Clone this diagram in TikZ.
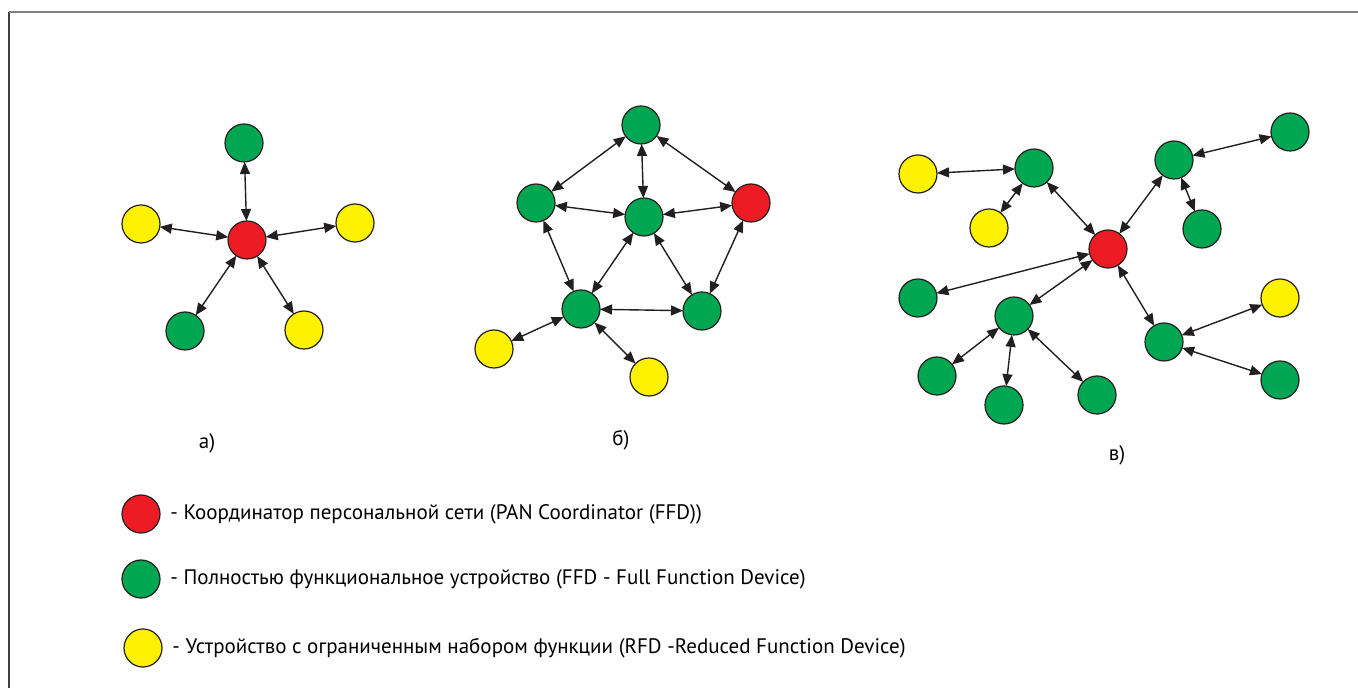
\documentclass[tikz,border=0pt]{standalone}
\usepackage{fontspec}
\setmainfont{PT Sans}
\usetikzlibrary{arrows.meta}
\definecolor{panred}{HTML}{ED1C24}
\definecolor{ffdgreen}{HTML}{00A651}
\definecolor{rfdyellow}{HTML}{FFF200}
\definecolor{rim}{HTML}{231F20}
\tikzset{
  dev/.style={circle,draw=rim,line width=0.6pt,minimum size=19pt,inner sep=0pt,outer sep=0pt},
  pan/.style={dev,fill=panred},
  ffd/.style={dev,fill=ffdgreen},
  rfd/.style={dev,fill=rfdyellow},
  link/.style={{Triangle[length=6pt,width=5pt]}-{Triangle[length=6pt,width=5pt]},line width=0.7pt,draw=rim},
  txt/.style={font=\fontsize{10.5}{12}\selectfont,inner sep=0pt}
}

\begin{document}
\begin{tikzpicture}[x=0.5pt,y=-0.5pt]
  \useasboundingbox (0,0) rectangle (1358,688);
  % frame
  \draw[line width=1pt,black!75] (9,688) -- (9,12);
  \draw[line width=1pt,black!50] (9,12) -- (1358,12);

  % a) star
  \node[pan] (ac) at (247,240) {};
  \node[ffd] (at) at (244,143) {};
  \node[rfd] (al) at (141,224) {};
  \node[rfd] (ar) at (355,223) {};
  \node[ffd] (abl) at (185,331) {};
  \node[rfd] (abr) at (304,330) {};
  \foreach \n in {at,al,ar,abl,abr}
    \draw[link] (ac) -- (\n);
  \node[txt] (la) at (207,443) {а)};

  % b) mesh
  \node[ffd] (bt) at (641,125) {};
  \node[ffd] (bl) at (536,203) {};
  \node[ffd] (bc) at (644,217) {};
  \node[pan] (br) at (751,203) {};
  \node[ffd] (bbl) at (581,309) {};
  \node[ffd] (bbr) at (702,311) {};
  \node[rfd] (by1) at (494,349) {};
  \node[rfd] (by2) at (649,377) {};
  \foreach \a/\b in {bt/bl,bt/bc,bt/br,bl/bc,bc/br,bl/bbl,bc/bbl,bc/bbr,br/bbr,bbl/bbr,bbl/by1,bbl/by2}
    \draw[link] (\a) -- (\b);
  \node[txt] (lb) at (621,440) {б)};

  % c) cluster tree
  \node[pan] (cc) at (1108,249) {};
  \node[rfd] (cy1) at (918,174) {};
  \node[ffd] (ca) at (1034,168) {};
  \node[rfd] (cy2) at (989,228) {};
  \node[ffd] (cb) at (1174,160) {};
  \node[ffd] (cbc) at (1290,132) {};
  \node[ffd] (cbd) at (1202,229) {};
  \node[ffd] (ce) at (918,298) {};
  \node[ffd] (cf) at (1014,316) {};
  \node[ffd] (cfg) at (937,376) {};
  \node[ffd] (cfh) at (1004,405) {};
  \node[ffd] (cfi) at (1097,395) {};
  \node[ffd] (cj) at (1164,342) {};
  \node[rfd] (cy3) at (1280,298) {};
  \node[ffd] (cjk) at (1280,380) {};
  \foreach \a/\b in {cy1/ca,ca/cy2,ca/cc,cc/cb,cb/cbc,cb/cbd,cc/ce,cc/cf,cf/cfg,cf/cfh,cf/cfi,cc/cj,cj/cy3,cj/cjk}
    \draw[link] (\a) -- (\b);
  \node[txt] (lc) at (1117,455) {в)};

  % legend
  \node[pan] (kpan) at (141,514) {};
  \node[ffd] (kffd) at (141,579) {};
  \node[rfd] (krfd) at (143,648) {};
  \node[txt,anchor=west] at (170,514) {- Координатор персональной сети (PAN Coordinator (FFD))};
  \node[txt,anchor=west] at (170,579) {- Полностью функциональное устройство (FFD - Full Function Device)};
  \node[txt,anchor=west] at (172,648) {- Устройство с ограниченным набором функции (RFD -Reduced Function Device)};
\end{tikzpicture}
\end{document}
